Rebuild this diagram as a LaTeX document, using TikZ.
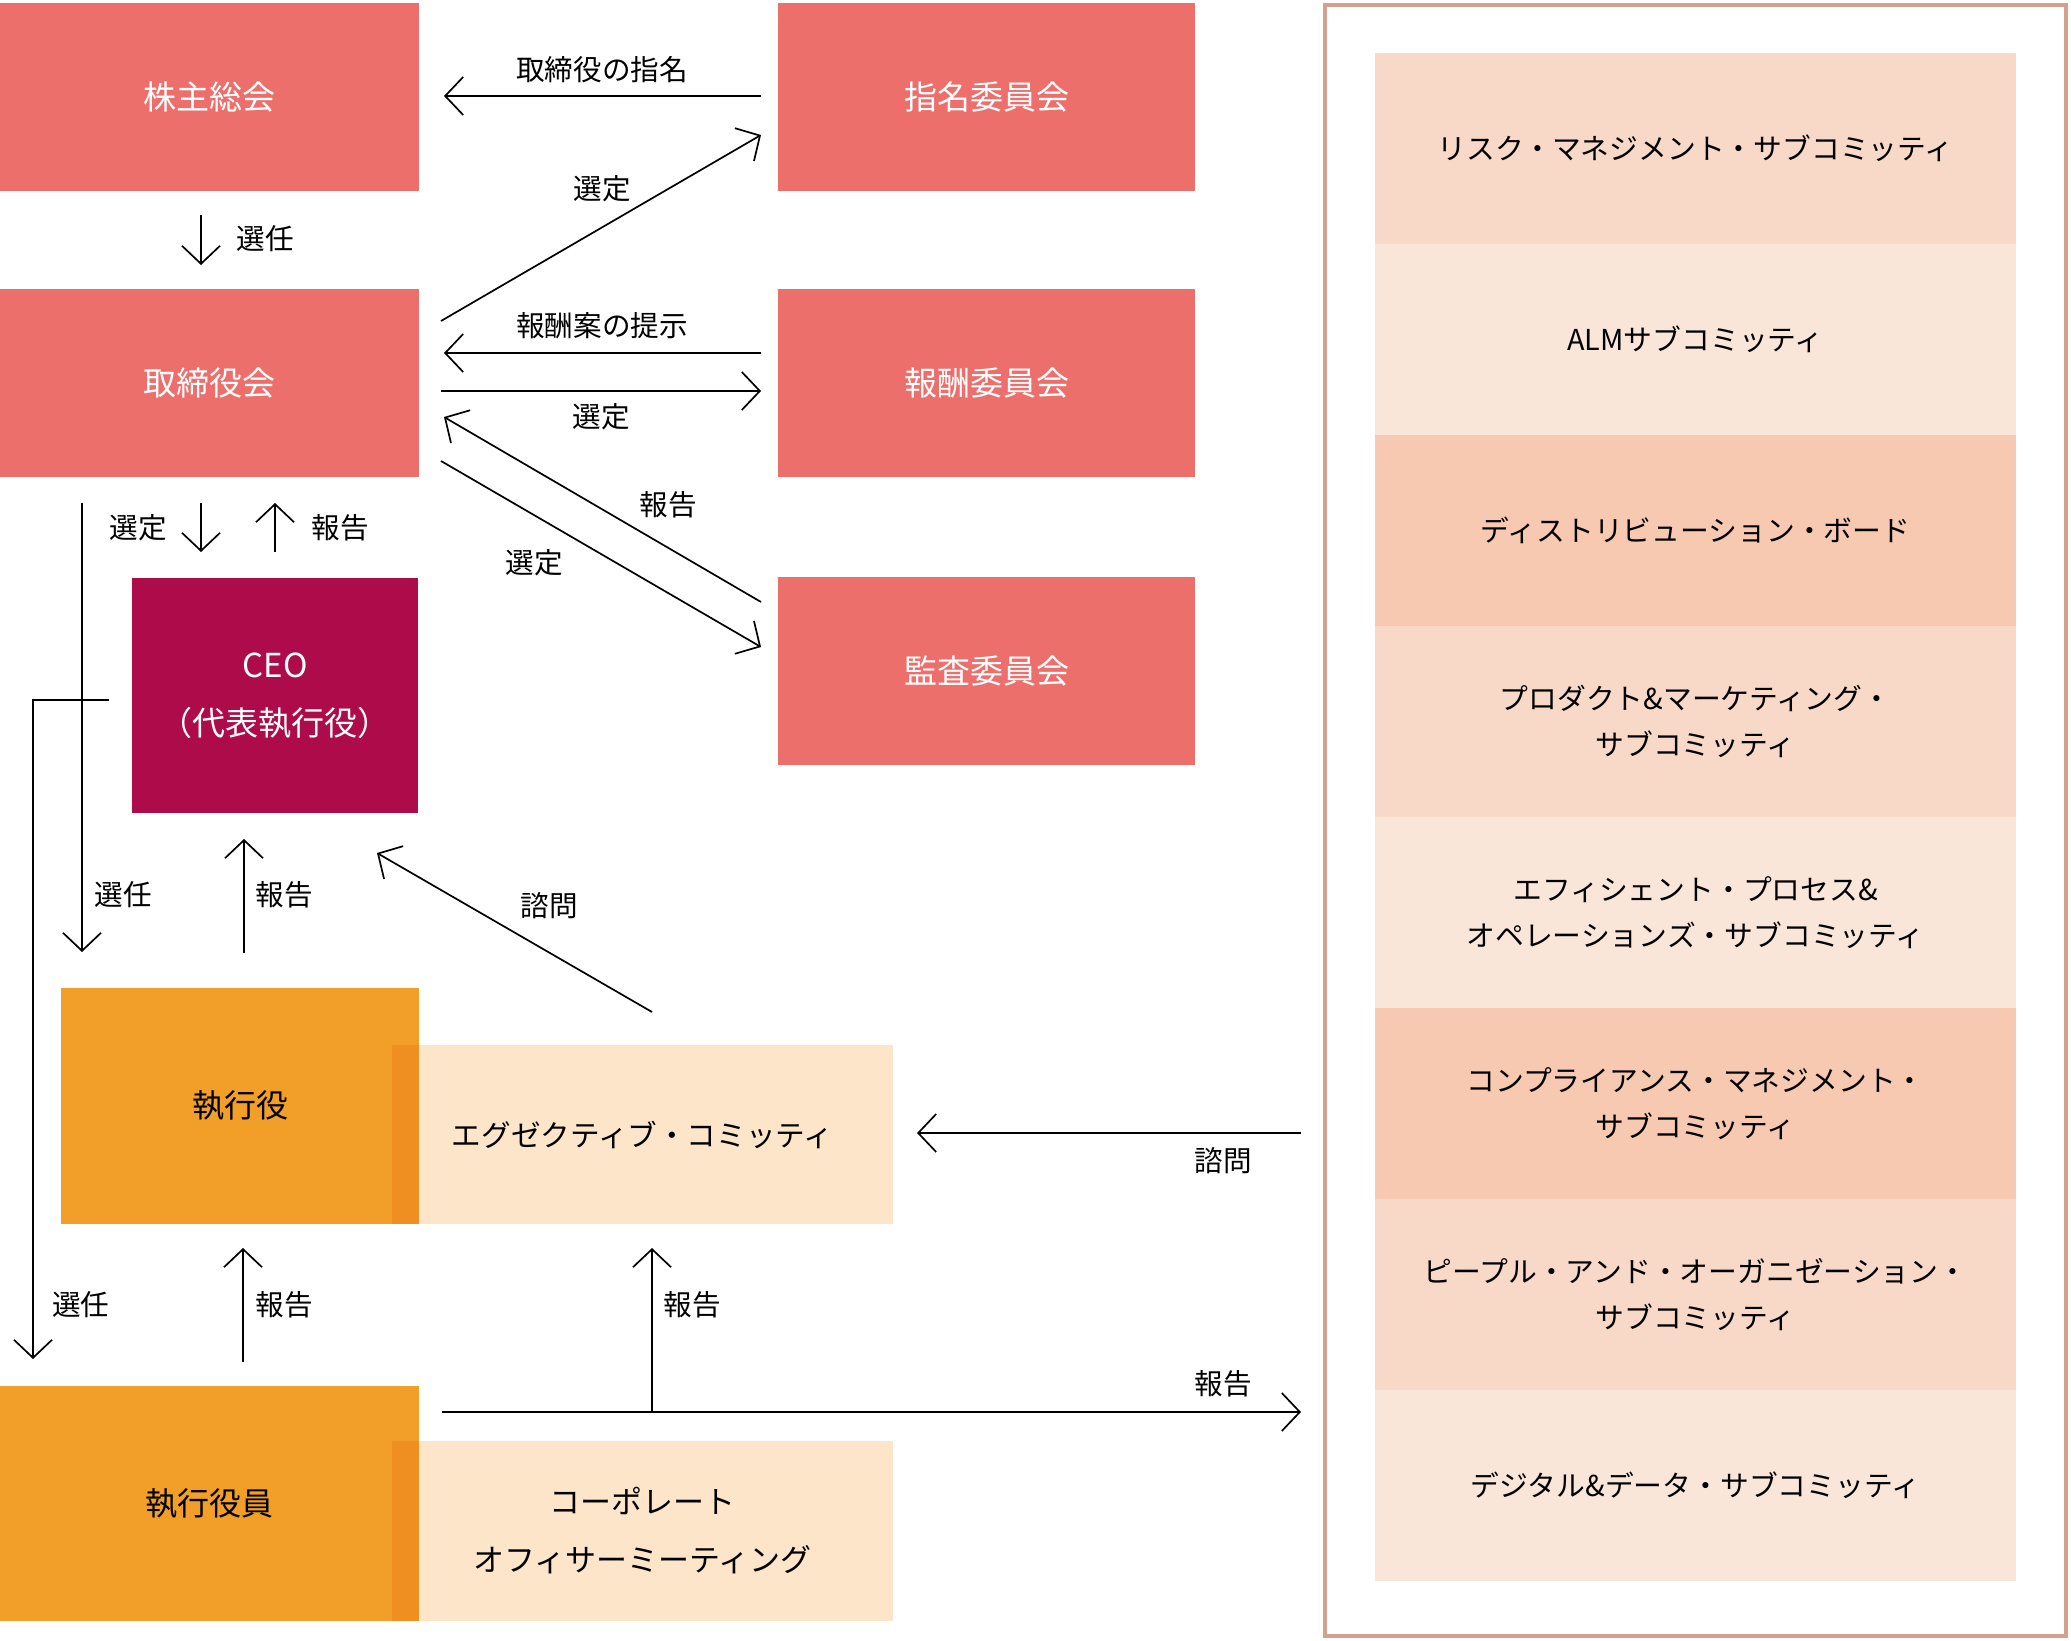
\documentclass[tikz,border=0pt]{standalone}
\usepackage{fontspec}
\setmainfont{Noto Sans CJK JP}
\usetikzlibrary{arrows.meta,calc}
\definecolor{redbox}{HTML}{EC6F6C}
\definecolor{ceobox}{HTML}{AE0B4A}
\definecolor{orangebox}{HTML}{F29F2A}
\definecolor{lightbox}{HTML}{FCE5C9}
\definecolor{overlapbox}{HTML}{EF8F22}
\definecolor{bandA}{HTML}{F8D8C6}
\definecolor{bandB}{HTML}{FAE6D9}
\definecolor{bandC}{HTML}{F7C9B0}
\definecolor{framecol}{HTML}{D6A08F}
\begin{document}
\begin{tikzpicture}[x=0.5pt,y=-0.5pt,
  arr/.style={draw=black,line width=0.85pt,-{Straight Barb[length=9pt,width=19pt,line width=0.85pt]}},
  lbl/.style={font=\fontsize{14.3}{17}\selectfont,text=black,inner sep=0},
  box/.style={anchor=north west,inner sep=0,outer sep=0,text=white,align=center,font=\fontsize{16.5}{29}\selectfont},
  redrect/.style={box,fill=redbox,minimum height=94pt},
  orect/.style={box,fill=orangebox,text=black},
  lrect/.style={box,fill=lightbox,text=black},
  band/.style={anchor=north west,inner sep=0,outer sep=0,minimum width=320.5pt,minimum height=95.5pt,align=center,text=black,font=\fontsize{14.4}{23}\selectfont}]
\useasboundingbox (0,0) rectangle (2071,1641);
\fill[white] (0,0) rectangle (2071,1641);

% left boxes
\node[redrect,minimum width=209.5pt] (kabu) at (0,3) {株主総会};
\node[redrect,minimum width=209.5pt] (tori) at (0,289) {取締役会};
\node[redrect,minimum width=208.5pt] (shimei) at (778,3) {指名委員会};
\node[redrect,minimum width=208.5pt] (hoshu) at (778,289) {報酬委員会};
\node[redrect,minimum width=208.5pt] (kansa) at (778,577) {監査委員会};
\node[box,fill=ceobox,minimum width=143pt,minimum height=117.5pt] (ceo) at (132,578) {CEO\\（代表執行役）};

\node[orect,minimum width=179pt,minimum height=118pt,font=\fontsize{16}{20}\selectfont] (shikko) at (61,988) {執行役};
\node[lrect,minimum width=250.5pt,minimum height=89.5pt,font=\fontsize{14.8}{20}\selectfont] (exec) at (392,1045) {エグゼクティブ・コミッティ};
\fill[overlapbox] (392,1045) rectangle (419,1224);

\node[orect,minimum width=209.5pt,minimum height=117.5pt,font=\fontsize{16}{20}\selectfont] (shikkoin) at (0,1386) {執行役員};
\node[lrect,minimum width=250.5pt,minimum height=90pt,font=\fontsize{15.5}{29}\selectfont] (corp) at (392,1441) {コーポレート\\オフィサーミーティング};
\fill[overlapbox] (392,1441) rectangle (419,1621);

% right panel
\draw[framecol,line width=2pt] (1325,5) rectangle (2066,1636);
\node[band,fill=bandA] (b1) at (1375,53) {リスク・マネジメント・サブコミッティ};
\node[band,fill=bandB] (b2) at (1375,244) {ALMサブコミッティ};
\node[band,fill=bandC] (b3) at (1375,435) {ディストリビューション・ボード};
\node[band,fill=bandA] (b4) at (1375,626) {プロダクト\&マーケティング・\\サブコミッティ};
\node[band,fill=bandB] (b5) at (1375,817) {エフィシェント・プロセス\&\\オペレーションズ・サブコミッティ};
\node[band,fill=bandC] (b6) at (1375,1008) {コンプライアンス・マネジメント・\\サブコミッティ};
\node[band,fill=bandA] (b7) at (1375,1199) {ピープル・アンド・オーガニゼーション・\\サブコミッティ};
\node[band,fill=bandB] (b8) at (1375,1390) {デジタル\&データ・サブコミッティ};

% connector end points
\coordinate (a1s) at (761,96);   \coordinate (a1e) at (444,96);
\coordinate (a2s) at (201,215);  \coordinate (a2e) at (201,265);
\coordinate (a3s) at (441,321);  \coordinate (a3e) at (761,135);
\coordinate (a4s) at (761,353);  \coordinate (a4e) at (444,353);
\coordinate (a5s) at (441,391);  \coordinate (a5e) at (761,391);
\coordinate (a6s) at (761,602);  \coordinate (a6e) at (444,417);
\coordinate (a7s) at (441,461);  \coordinate (a7e) at (761,647);
\coordinate (a8s) at (201,503);  \coordinate (a8e) at (201,552);
\coordinate (a9s) at (275,552);  \coordinate (a9e) at (275,503);
\coordinate (a10s) at (82,503);  \coordinate (a10e) at (82,952);
\coordinate (a11s) at (109,700); \coordinate (a11m) at (33,700); \coordinate (a11e) at (33,1359);
\coordinate (a12s) at (244,953); \coordinate (a12e) at (244,839);
\coordinate (a13s) at (652,1012); \coordinate (a13e) at (377,853);
\coordinate (a14s) at (1301,1133); \coordinate (a14e) at (917,1133);
\coordinate (a15s) at (243,1362); \coordinate (a15e) at (243,1248);
\coordinate (a16s) at (652,1412); \coordinate (a16e) at (652,1248);
\coordinate (a17s) at (442,1412); \coordinate (a17e) at (1301,1412);

\draw[arr] (a1s) -- (a1e);
\draw[arr] (a2s) -- (a2e);
\draw[arr] (a3s) -- (a3e);
\draw[arr] (a4s) -- (a4e);
\draw[arr] (a5s) -- (a5e);
\draw[arr] (a6s) -- (a6e);
\draw[arr] (a7s) -- (a7e);
\draw[arr] (a8s) -- (a8e);
\draw[arr] (a9s) -- (a9e);
\draw[arr] (a10s) -- (a10e);
\draw[arr] (a11s) -- (a11m) -- (a11e);
\draw[arr] (a12s) -- (a12e);
\draw[arr] (a13s) -- (a13e);
\draw[arr] (a14s) -- (a14e);
\draw[arr] (a15s) -- (a15e);
\draw[arr] (a16s) -- (a16e);
\draw[arr] (a17s) -- (a17e);

% labels
\node[lbl] (l1) at (602,70) {取締役の指名};
\node[lbl] (l2) at (265,239) {選任};
\node[lbl] (l3) at (602,189) {選定};
\node[lbl] (l4) at (602,326) {報酬案の提示};
\node[lbl] (l5) at (601,417) {選定};
\node[lbl] (l6) at (668,505) {報告};
\node[lbl] (l7) at (534,563) {選定};
\node[lbl] (l8) at (138,528) {選定};
\node[lbl] (l9) at (340,528) {報告};
\node[lbl] (l10) at (123,895) {選任};
\node[lbl] (l11) at (284,895) {報告};
\node[lbl] (l12) at (549,906) {諮問};
\node[lbl] (l13) at (1223,1161) {諮問};
\node[lbl] (l14) at (284,1305) {報告};
\node[lbl] (l15) at (81,1305) {選任};
\node[lbl] (l16) at (692,1305) {報告};
\node[lbl] (l17) at (1223,1384) {報告};
\end{tikzpicture}
\end{document}
